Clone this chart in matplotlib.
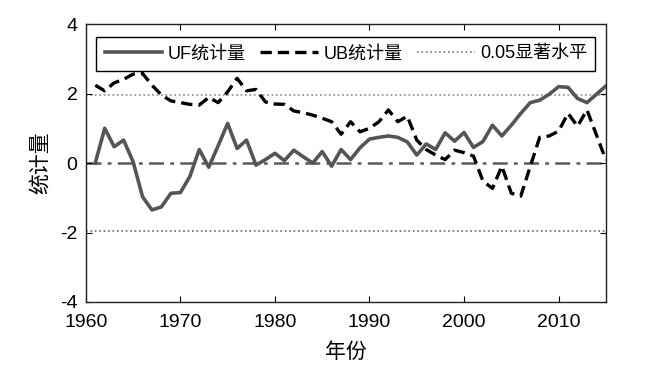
import matplotlib
matplotlib.use('Agg')
import matplotlib.pyplot as plt
import numpy as np

plt.rcParams['font.family'] = ['Liberation Sans', 'Noto Sans CJK SC']
plt.rcParams['axes.unicode_minus'] = False

# Mann-Kendall statistics
years = np.arange(1961, 2016)
uf = [0.00, 1.00, 0.47, 0.66, 0.04, -0.97, -1.35, -1.26, -0.87, -0.85,
      -0.39, 0.39, -0.12, 0.50, 1.14, 0.42, 0.66, -0.06, 0.10, 0.28,
      0.07, 0.37, 0.18, 0.00, 0.33, -0.09, 0.39, 0.10, 0.44, 0.69,
      0.74, 0.78, 0.74, 0.61, 0.23, 0.55, 0.39, 0.87, 0.63, 0.88,
      0.45, 0.62, 1.09, 0.78, 1.09, 1.43, 1.74, 1.81, 1.98, 2.20,
      2.18, 1.86, 1.74, 1.98, 2.22]
ub = [2.24, 2.08, 2.31, 2.41, 2.56, 2.58, 2.24, 1.96, 1.79, 1.74,
      1.69, 1.67, 1.89, 1.74, 2.05, 2.44, 2.08, 2.12, 1.76, 1.70,
      1.69, 1.50, 1.45, 1.38, 1.29, 1.19, 0.83, 1.19, 0.90, 1.00,
      1.19, 1.53, 1.19, 1.35, 0.66, 0.39, 0.23, 0.10, 0.37, 0.30,
      0.20, -0.52, -0.73, -0.09, -0.87, -0.95, -0.10, 0.74, 0.78, 0.92,
      1.43, 1.06, 1.53, 0.81, 0.09]
crit = 1.96

fig = plt.figure(figsize=(6.6, 3.77), dpi=100)
ax = fig.add_axes([0.13, 0.199, 0.788, 0.737])

ax.axhline(0, color='#5a5a5a', lw=1.8, ls=(0, (6, 2.5, 1.5, 2.5)), zorder=1)
ax.axhline(-crit, color='#6a6a6a', lw=1.2, ls=':', zorder=1)
ax.axhline(crit, color='#8a8a8a', lw=1.2, ls=':', zorder=1)
l1, = ax.plot(years, uf, color='#555555', lw=2.6, zorder=3)
l2, = ax.plot(years, ub, color='black', lw=2.4, ls=(0, (3.4, 1.8)), zorder=2)
l3, = ax.plot([], [], color='#777777', lw=1.2, ls=':')

ax.set_xlim(1960, 2015)
ax.set_ylim(-4, 4)
ax.set_xticks([1960, 1970, 1980, 1990, 2000, 2010])
ax.set_yticks([-4, -2, 0, 2, 4])
ax.tick_params(direction='in', length=4, top=True, right=True,
               labelsize=14, colors='black')
ax.tick_params(axis='x', pad=9)
ax.tick_params(axis='y', pad=6)
for s in ax.spines.values():
    s.set_linewidth(1.0)
    s.set_color('#222222')

ax.set_xlabel('年份', fontsize=15, labelpad=8)
ax.set_ylabel('统计量', fontsize=15, labelpad=7)

leg = ax.legend([l1, l2, l3], ['UF统计量', 'UB统计量', '0.05显著水平'],
                loc='upper center', bbox_to_anchor=(0.5, 0.985), ncol=3,
                fontsize=13, handlelength=3.2, columnspacing=0.8,
                handletextpad=0.3, fancybox=False, framealpha=1,
                edgecolor='black', borderpad=0.45)
leg.get_frame().set_linewidth(1.0)

plt.savefig('out.png', dpi=100)
plt.close()
